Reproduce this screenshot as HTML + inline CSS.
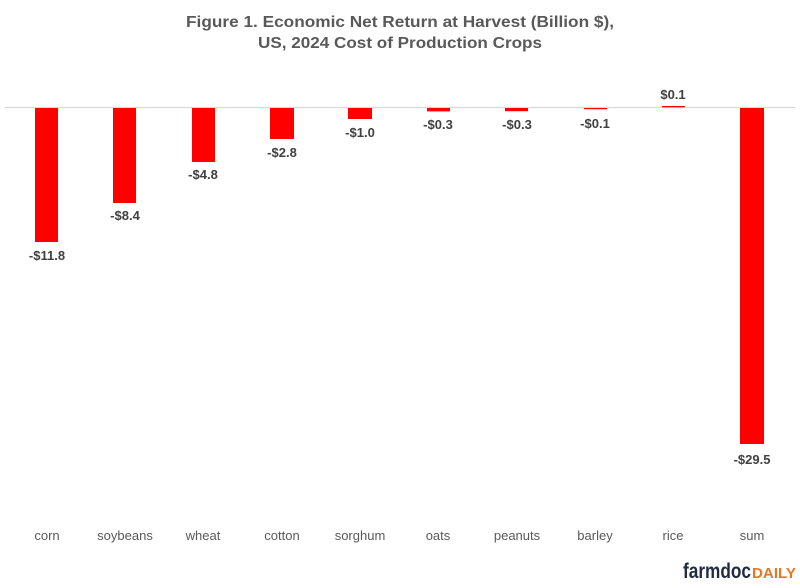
<!DOCTYPE html>
<html><head><style>
body{margin:0;background:#fff;}
svg text{font-family:"Liberation Sans",Arial,sans-serif;}
</style></head><body>
<svg width="800" height="583" viewBox="0 0 800 583" xmlns="http://www.w3.org/2000/svg">
<rect width="800" height="583" fill="#fff"/>
<text x="400" y="27" text-anchor="middle" font-size="16" font-weight="bold" fill="#595959" textLength="428" lengthAdjust="spacingAndGlyphs">Figure 1.  Economic Net Return at Harvest (Billion  $),</text>
<text x="400" y="48" text-anchor="middle" font-size="16" font-weight="bold" fill="#595959" textLength="284" lengthAdjust="spacingAndGlyphs">US, 2024 Cost of Production Crops</text>
<line x1="5" y1="107.5" x2="795" y2="107.5" stroke="#d9d9d9" stroke-width="1.2"/>
<g fill="#ff0000">
<rect x="35" y="108" width="23" height="134"/>
<rect x="113" y="108" width="23" height="95"/>
<rect x="192" y="108" width="23" height="54"/>
<rect x="270" y="108" width="24" height="31"/>
<rect x="348" y="108" width="24" height="11"/>
<rect x="427" y="108" width="23" height="3.4"/>
<rect x="505" y="108" width="23" height="3.2"/>
<rect x="584" y="108" width="23" height="1.2"/>
<rect x="662" y="106" width="23" height="1.3"/>
<rect x="740" y="108" width="24" height="336"/>
</g>
<g font-size="13" font-weight="bold" fill="#404040" text-anchor="middle">
<text x="47" y="260">-$11.8</text>
<text x="125" y="220">-$8.4</text>
<text x="203" y="179">-$4.8</text>
<text x="282" y="157">-$2.8</text>
<text x="360" y="137">-$1.0</text>
<text x="438" y="129">-$0.3</text>
<text x="517" y="129">-$0.3</text>
<text x="595" y="128">-$0.1</text>
<text x="673" y="99">$0.1</text>
<text x="752" y="464">-$29.5</text>
</g>
<g font-size="13" fill="#595959" text-anchor="middle">
<text x="47" y="540">corn</text>
<text x="125" y="540">soybeans</text>
<text x="203" y="540">wheat</text>
<text x="282" y="540">cotton</text>
<text x="360" y="540">sorghum</text>
<text x="438" y="540">oats</text>
<text x="517" y="540">peanuts</text>
<text x="595" y="540">barley</text>
<text x="673" y="540">rice</text>
<text x="752" y="540">sum</text>
</g>
<text x="683" y="578" font-size="21" font-weight="bold" fill="#1f2a44" textLength="68" lengthAdjust="spacingAndGlyphs">farmdoc</text>
<text x="752" y="578" font-size="15" font-weight="bold" fill="#e87722" textLength="44" lengthAdjust="spacingAndGlyphs">DAILY</text>
</svg>
</body></html>
